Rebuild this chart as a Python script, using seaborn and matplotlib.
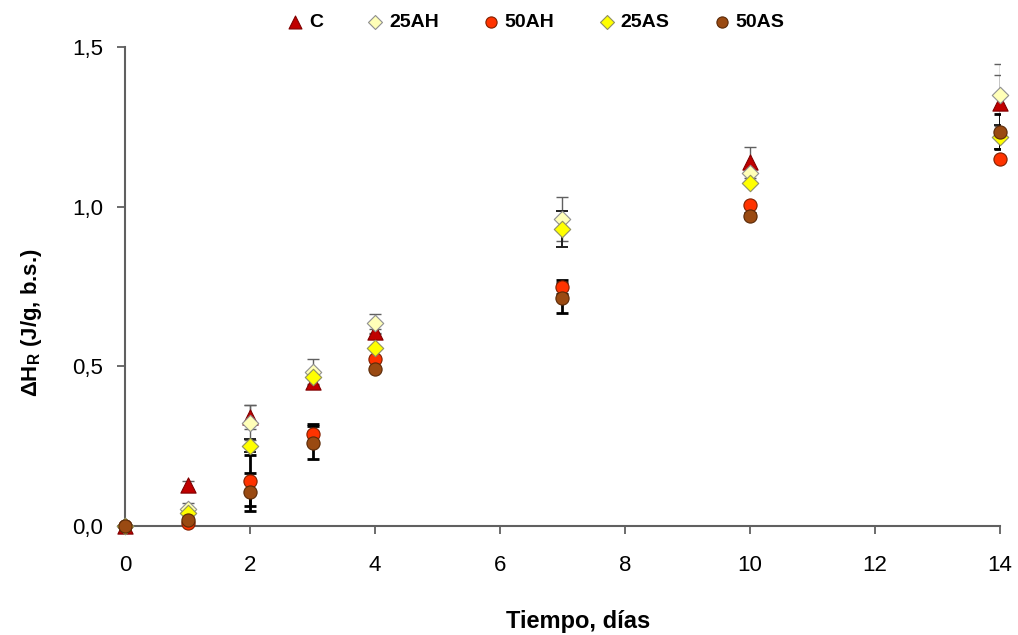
import numpy as np
import pandas as pd
import matplotlib
matplotlib.use("Agg")
import matplotlib.pyplot as plt
import seaborn as sns

sns.set_theme(style="ticks")
plt.rcParams['font.family'] = ['Liberation Sans', 'DejaVu Sans']
plt.rcParams['mathtext.fontset'] = 'custom'
plt.rcParams['mathtext.rm'] = 'Liberation Sans:bold'
plt.rcParams['mathtext.bf'] = 'Liberation Sans:bold'
plt.rcParams['text.color'] = 'black'
plt.rcParams['axes.labelcolor'] = 'black'

# Data
dias = [0, 1, 2, 3, 4, 7, 10, 14]
series = ['C', '25AH', '50AH', '25AS', '50AS']

C_vals = [0.0, 0.128, 0.342, 0.452, 0.608, np.nan, 1.139, 1.326]
AH25_vals = [0.0, 0.053, 0.324, 0.483, 0.635, 0.960, 1.104, 1.350]
AH50_vals = [0.0, 0.008, 0.142, 0.288, 0.524, 0.749, 1.005, 1.148]
AS25_vals = [0.0, 0.042, 0.252, 0.468, 0.558, 0.930, 1.073, 1.219]
AS50_vals = [0.0, 0.019, 0.107, 0.261, 0.493, 0.713, 0.971, 1.235]

# desviaciones (NaN = no visible bar)
C_err = [np.nan, 0.012, 0.037, 0.008, 0.008, np.nan, 0.049, 0.086]
AH25_err = [np.nan, 0.02, 0.055, 0.04, 0.03, 0.069, np.nan, 0.097]
AH50_err = [np.nan, np.nan, 0.08, 0.031, np.nan, 0.021, np.nan, np.nan]
AS25_err = [np.nan, np.nan, 0.02, np.nan, np.nan, 0.055, np.nan, 0.037]
AS50_err = [np.nan, np.nan, 0.06, 0.052, np.nan, 0.047, 0.008, 0.055]

values = {'C': C_vals, '25AH': AH25_vals, '50AH': AH50_vals, '25AS': AS25_vals, '50AS': AS50_vals}
errors = {'C': C_err, '25AH': AH25_err, '50AH': AH50_err, '25AS': AS25_err, '50AS': AS50_err}

df = pd.concat([
    pd.DataFrame({'dia': dias, 'dH': values[s], 'err': errors[s], 'serie': s})
    for s in series
], ignore_index=True)

# marker styles per series
markers = {'C': '^', '25AH': 'D', '50AH': 'o', '25AS': 'D', '50AS': 'o'}
faces = {'C': '#C00000', '25AH': '#FFFFB8', '50AH': '#FF3300', '25AS': '#FFFF00', '50AS': '#9A4A12'}
edges = {'C': '#800000', '25AH': '#909090', '50AH': '#802000', '25AS': '#909060', '50AS': '#5A2A08'}
sizes = {'C': 120, '25AH': 70, '50AH': 90, '25AS': 70, '50AS': 90}
err_col = {'C': '#606060', '25AH': '#606060', '50AH': 'black', '25AS': '#202020', '50AS': 'black'}
err_lw = {'C': 1.0, '25AH': 1.0, '50AH': 2.0, '25AS': 1.4, '50AS': 2.0}

fig = plt.figure(figsize=(10.18, 6.35), dpi=100)
ax = fig.add_axes([0.1228, 0.1717, 0.8595, 0.7543])

for s in series:
    sub = df[df['serie'] == s]
    ax.errorbar(sub['dia'], sub['dH'], yerr=sub['err'], fmt='none',
                ecolor=err_col[s], elinewidth=err_lw[s], capsize=4.5,
                capthick=err_lw[s], zorder=2)
    sns.scatterplot(data=sub, x='dia', y='dH', marker=markers[s], s=sizes[s],
                    color=faces[s], edgecolor=edges[s], linewidth=0.8,
                    ax=ax, zorder=3, clip_on=False, label=s)

ax.set_xlim(0, 14)
ax.set_ylim(0, 1.5)
ax.set_xticks(range(0, 15, 2))
ax.set_yticks([0, 0.5, 1.0, 1.5])
ax.set_yticklabels(['0,0', '0,5', '1,0', '1,5'])
ax.tick_params(labelsize=16, length=6, width=1.3, color='#606060',
               labelcolor='black', direction='out')
ax.tick_params(axis='x', pad=15)
ax.tick_params(axis='y', pad=10)
for side in ['top', 'right']:
    ax.spines[side].set_visible(False)
for side in ['left', 'bottom']:
    ax.spines[side].set_color('#606060')
    ax.spines[side].set_linewidth(1.5)

ax.set_xlabel('Tiempo, días', fontsize=17, fontweight='bold')
ax.xaxis.set_label_coords(0.518, -0.176)
ax.set_ylabel(r'ΔH$_{\mathrm{R}}$ (J/g, b.s.)', fontsize=16, fontweight='bold')
ax.yaxis.set_label_coords(-0.093, 0.424)

handles, labels = ax.get_legend_handles_labels()
ax.get_legend().remove()
leg = fig.legend(handles, labels, loc='center', bbox_to_anchor=(535 / 1018, 1 - 22 / 635),
                 ncol=5, frameon=False, columnspacing=2.2, handlelength=1.0,
                 handletextpad=0.2, markerscale=0.85, prop={'size': 14, 'weight': 'bold'})

fig.savefig('out.png', dpi=100)
